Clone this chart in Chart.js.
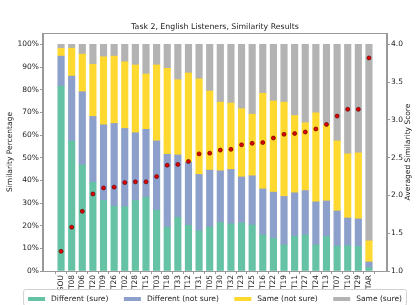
<!DOCTYPE html>
<html><head><meta charset="utf-8">
<script src="https://cdn.jsdelivr.net/npm/chart.js@4"></script>
<style>html,body{margin:0;padding:0;background:#fff;overflow:hidden}#wrap{width:419px;height:305px;position:relative}</style>
</head><body><div id="wrap"><canvas id="c"></canvas></div>
<script>
const categories = ['SOU','T08','T06','T20','T09','T26','T02','T28','T15','T03','T18','T33','T12','T31','T05','T30','T32','T23','T25','T16','T22','T19','T11','T27','T24','T13','T07','T10','T29','TAR'];
const diffSure    = [81.6,57.4,46.8,39.2,31.1,28.6,28.4,31.1,32.6,26.8,19.3,23.7,20.2,17.7,19.4,21.4,20.8,21.2,20.3,15.9,14.4,11.5,15.3,15.9,11.5,15.2,11.0,11.2,10.9,1.5];
const diffNotSure = [13.2,28.6,32.3,29.0,33.4,36.5,34.5,29.9,29.9,30.6,32.2,27.5,27.7,24.9,25.1,22.8,24.0,20.3,21.7,20.3,20.4,21.4,19.2,19.6,19.0,15.7,15.5,12.2,12.1,2.5];
const sameNotSure = [3.4,12.3,16.6,23.0,30.0,29.7,29.4,29.9,24.4,33.5,37.9,33.2,39.4,42.2,34.9,30.3,29.3,30.1,27.2,42.2,40.2,41.6,34.1,29.9,39.3,33.6,30.9,28.3,29.1,9.3];
const sameSure    = [1.8,1.7,4.3,8.8,5.5,5.2,7.7,9.1,13.1,9.1,10.6,15.6,12.7,15.2,20.6,25.5,25.9,28.4,30.8,21.6,25.0,25.5,31.4,34.6,30.2,35.5,42.6,48.3,47.9,86.7];
const avgScores   = [1.26,1.58,1.79,2.02,2.10,2.11,2.17,2.18,2.18,2.25,2.40,2.41,2.45,2.55,2.56,2.60,2.61,2.67,2.69,2.70,2.76,2.81,2.82,2.84,2.88,2.94,3.05,3.14,3.14,3.82];
const pctTicks = [0,10,20,30,40,50,60,70,80,90,100];
const scoreTicks = [1.0,1.5,2.0,2.5,3.0,3.5,4.0];
const seriesLabels = ['Different (sure)','Different (not sure)','Same (not sure)','Same (sure)'];
const seriesColors = ['#66c2a5','#8da0cb','#ffd92f','#b3b3b3'];
const titleText = 'Task 2, English Listeners, Similarity Results';
const leftTitle = 'Similarity Percentage';
const rightTitle = 'Averaged Similarity Score';

const FONT = 'DejaVu Sans';
const TXT = '#222';
const AX = '#999';
const font = {family: FONT, size: 7.5};

const series = [diffSure, diffNotSure, sameNotSure, sameSure];
const barSets = series.map((arr, k) => ({
  type: 'bar',
  label: seriesLabels[k],
  data: arr.map((v, i) => ({x: i, y: v})),
  backgroundColor: seriesColors[k],
  borderWidth: 0,
  barThickness: 6.5,
  yAxisID: 'y',
  order: 1
}));
const dotSet = {
  type: 'line',
  label: 'score',
  data: avgScores.map((v, i) => ({x: i, y: v})),
  showLine: false,
  pointRadius: 2,
  pointBackgroundColor: '#e00000',
  pointBorderColor: '#6b0000',
  pointBorderWidth: 0.7,
  yAxisID: 'y2',
  order: 0
};

const decor = {
  id: 'decor',
  afterDraw(chart) {
    const ctx = chart.ctx, a = chart.chartArea;
    ctx.save();
    ctx.strokeStyle = AX; ctx.lineWidth = 1;
    ctx.strokeRect(Math.round(a.left) - 0.5, Math.round(a.top) + 0.5, Math.round(a.right - a.left), Math.round(a.bottom - a.top));
    const cx = (a.left + a.right) / 2;
    const cy = (a.top + a.bottom) / 2;
    ctx.fillStyle = TXT;
    ctx.font = '7.8px "' + FONT + '"';
    ctx.textAlign = 'center'; ctx.textBaseline = 'middle';
    ctx.fillText(titleText, cx, 27);
    // right axis title, reading bottom-to-top
    ctx.font = '7.5px "' + FONT + '"';
    ctx.save();
    ctx.translate(408.5, cy);
    ctx.rotate(-Math.PI / 2);
    ctx.fillText(rightTitle, 0, 0);
    ctx.restore();
    // legend
    const sw = 17, gap = 6, sep = 15.5;
    const widths = seriesLabels.map(t => ctx.measureText(t).width);
    let total = 0;
    widths.forEach((w, i) => { total += sw + gap + w + (i < widths.length - 1 ? sep : 0); });
    let x = cx - total / 2;
    const yc = 299;
    ctx.fillStyle = 'rgba(255,255,255,0.85)';
    ctx.strokeStyle = '#d0d0d0';
    const bx = x - 4.5, bw = total + 9;
    ctx.beginPath();
    if (ctx.roundRect) ctx.roundRect(bx, 289.5, bw, 16, 2); else ctx.rect(bx, 289.5, bw, 16);
    ctx.fill(); ctx.stroke();
    ctx.textAlign = 'left';
    seriesLabels.forEach((t, i) => {
      ctx.fillStyle = seriesColors[i];
      ctx.fillRect(x, yc - 2, sw, 4);
      ctx.fillStyle = TXT;
      ctx.fillText(t, x + sw + gap, yc);
      x += sw + gap + widths[i] + sep;
    });
    ctx.restore();
  }
};

new Chart(document.getElementById('c'), {
  data: {datasets: [...barSets, dotSet]},
  options: {
    responsive: true,
    maintainAspectRatio: false,
    devicePixelRatio: 1,
    animation: false,
    layout: {padding: {top: 33, bottom: 14, left: 0, right: 0}},
    plugins: {legend: {display: false}, title: {display: false}, tooltip: {enabled: false}},
    scales: {
      x: {
        type: 'linear', min: -1.7, max: 30.7, stacked: true, offset: false,
        grid: {display: true, drawOnChartArea: false, drawTicks: true, tickLength: 3, color: AX},
        border: {display: true, color: AX},
        ticks: {autoSkip: false, minRotation: 90, maxRotation: 90, padding: 1, font: font, color: TXT,
          callback: (v) => categories[v]},
        afterBuildTicks: s => { s.ticks = categories.map((_, i) => ({value: i})); },
        afterFit: s => { s.height = 20; }
      },
      y: {
        type: 'linear', position: 'left', stacked: true, min: 0, max: 105,
        grid: {display: true, drawOnChartArea: false, drawTicks: true, tickLength: 3, color: AX},
        border: {display: true, color: AX},
        ticks: {padding: 1, font: font, color: TXT, callback: v => v + '%'},
        afterBuildTicks: s => { s.ticks = pctTicks.map(v => ({value: v})); },
        afterFit: s => { s.width = 43; },
        title: {display: true, text: leftTitle, font: font, color: TXT, padding: {top: 6, bottom: 0}}
      },
      y2: {
        type: 'linear', position: 'right', min: 1.0, max: 4.15,
        grid: {display: true, drawOnChartArea: false, drawTicks: true, tickLength: 3, color: AX},
        border: {display: true, color: AX},
        ticks: {padding: 1, font: font, color: TXT, callback: v => Number(v).toFixed(1)},
        afterBuildTicks: s => { s.ticks = scoreTicks.map(v => ({value: v})); },
        afterFit: s => { s.width = 32; }
      }
    }
  },
  plugins: [decor]
});
</script>
</body></html>
